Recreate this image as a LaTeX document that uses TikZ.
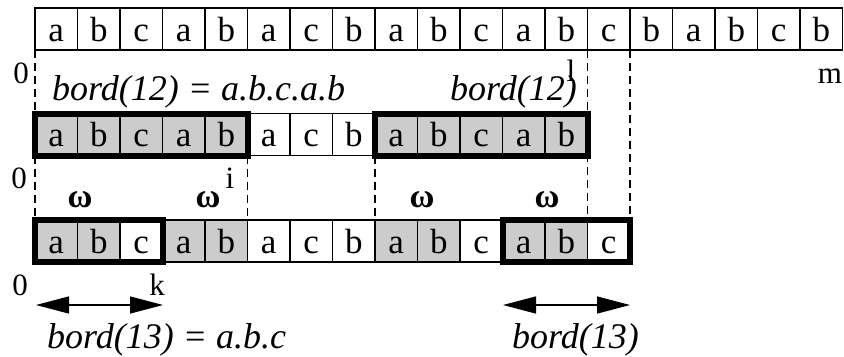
\documentclass[tikz,border=0pt]{standalone}
\usepackage{fontspec}
\setmainfont{Liberation Serif}
\usetikzlibrary{arrows.meta}
\definecolor{cellgray}{RGB}{204,204,204}

\begin{document}
\begin{tikzpicture}[x=1bp,y=-1bp,
  cell/.style={draw, line width=1.3bp, minimum width=42.5bp, minimum height=42bp,
    inner sep=0pt, outer sep=0pt, text height=24bp, text depth=0pt,
    font=\fontsize{35bp}{35bp}\selectfont},
  shaded/.style={cell, fill=cellgray},
  border/.style={draw, line width=6bp},
  guide/.style={draw, line width=1.5bp, dash pattern=on 8bp off 5bp},
  idx/.style={anchor=base, inner sep=0pt, font=\fontsize{31bp}{31bp}\selectfont},
  omega/.style={anchor=base, inner sep=0pt, font=\fontsize{34bp}{34bp}\selectfont\bfseries},
  caption/.style={anchor=base west, inner sep=0pt, font=\fontsize{36bp}{36bp}\selectfont\itshape},
  span/.style={line width=1.3bp, {Triangle[length=33bp,width=17bp]}-{Triangle[length=33bp,width=17bp]}}
]
\useasboundingbox (0,0) rectangle (844,356);

% text y = abcabacbabcabcbabcb
\foreach \ch [count=\i] in {a,b,c,a,b,a,c,b,a,b,c,a,b,c,b,a,b,c,b}
  \node[cell] (t\i) at ({35+42.5*(\i-0.5)}, 29) {\ch};

% word x = abcabacbabcab, with its border abcab shaded
\foreach \ch/\s [count=\i] in {a/shaded,b/shaded,c/shaded,a/shaded,b/shaded,
    a/cell,c/cell,b/cell,a/shaded,b/shaded,c/shaded,a/shaded,b/shaded}
  \node[\s] (r\i) at ({35+42.5*(\i-0.5)}, 134.5) {\ch};

% word x = abcabacbabcabc, occurrences of ab shaded
\foreach \ch/\s [count=\i] in {a/shaded,b/shaded,c/cell,a/shaded,b/shaded,
    a/cell,c/cell,b/cell,a/shaded,b/shaded,c/cell,a/shaded,b/shaded,c/cell}
  \node[\s] (s\i) at ({35+42.5*(\i-0.5)}, 241) {\ch};

% borders
\draw[border] (r1.north west) rectangle (r5.south east);
\draw[border] (r9.north west) rectangle (r13.south east);
\draw[border] (s1.north west) rectangle (s3.south east);
\draw[border] (s12.north west) rectangle (s14.south east);

% alignment guides
\draw[guide] (t1.south west) -- (r1.north west);
\draw[guide] (r1.south west) -- (s1.north west);
\draw[guide] (r5.south east) -- (s5.north east);
\draw[guide] (r9.south west) -- (s9.north west);
\draw[guide] (t14.south west) -- (s14.north west);
\draw[guide] (t14.south east) -- (s14.north east);

% positions
\node[idx] (z1) at (21,83) {0};
\node[idx] (l1) at (571,81) {l};
\node[idx] (m1) at (830,83) {m};
\node[idx] (z2) at (19,188) {0};
\node[idx] (i1) at (230,188) {i};
\node[idx] (z3) at (20,295) {0};
\node[idx] (k1) at (157,295) {k};

% periods
\node[omega] (w1) at (80,207) {ω};
\node[omega] (w2) at (208,207) {ω};
\node[omega] (w3) at (422,207) {ω};
\node[omega] (w4) at (547,207) {ω};

% captions
\node[caption] (c1) at (52,100) {bord(12) = a.b.c.a.b};
\node[caption] (c2) at (450,100) {bord(12)};
\node[caption] (c3) at (47,348) {bord(13) = a.b.c};
\node[caption] (c4) at (512,348) {bord(13)};

% extent of bord(13)
\coordinate (a1) at (36,305);
\coordinate (a2) at (163,305);
\coordinate (b1) at (503,305);
\coordinate (b2) at (630,305);
\draw[span] (a1) -- (a2);
\draw[span] (b1) -- (b2);
\end{tikzpicture}
\end{document}
